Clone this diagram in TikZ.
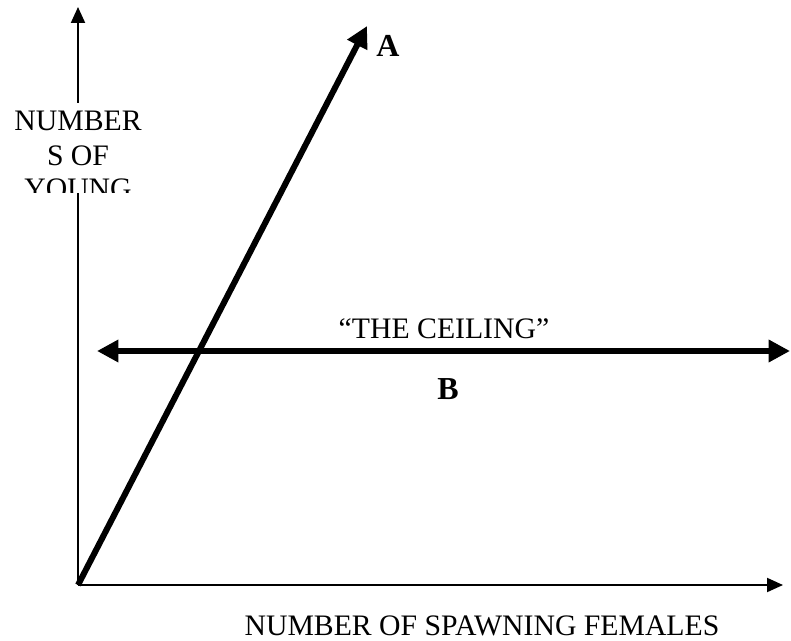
\documentclass[tikz,border=0pt]{standalone}
\usepackage{fontspec}
\setmainfont{Liberation Serif}
\usetikzlibrary{arrows.meta}
\begin{document}
\begin{tikzpicture}[x=0.75pt,y=-0.75pt,
  axis/.style={line width=1.5pt,-{Triangle[length=12pt,width=10.5pt]}},
  bold/.style={line width=4.5pt},
  lbl/.style={inner sep=0pt,anchor=base,font=\fontsize{22.3}{26}\selectfont},
  letter/.style={inner sep=0pt,anchor=base,font=\fontsize{24}{28}\selectfont\bfseries}]
\useasboundingbox (0,0) rectangle (791,641);
\coordinate (O) at (78,585);
\coordinate (Ytop) at (78,7);
\coordinate (Xend) at (783,585);
\coordinate (Atip) at (367,26);
\coordinate (Bl) at (97,351);
\coordinate (Br) at (790,351);
% axes
\draw[axis] (O) -- (Ytop);
\draw[axis] (O) -- (Xend);
% y-axis label box (clipped)
\fill[white] (10,103) rectangle (146,193);
\begin{scope}
\clip (10,103) rectangle (146,193);
\node[lbl] (ylab1) at (78,131) {NUMBER};
\node[lbl] (ylab2) at (78,166) {S OF};
\node[lbl] (ylab3) at (78,199) {YOUNG};
\end{scope}
% line A
\draw[bold,-{Triangle[length=16pt,width=16pt]}] (O) -- (Atip);
% ceiling
\draw[bold,{Triangle[length=16pt,width=16pt]}-{Triangle[length=16pt,width=16pt]}] (Bl) -- (Br);
% labels
\node[letter] (A) at (388,57) {A};
\node[letter] (B) at (448,399) {B};
\node[lbl] (ceil) at (444,338) {“THE CEILING”};
\node[lbl] (xlab) at (482,635) {NUMBER OF SPAWNING FEMALES};
\end{tikzpicture}
\end{document}
